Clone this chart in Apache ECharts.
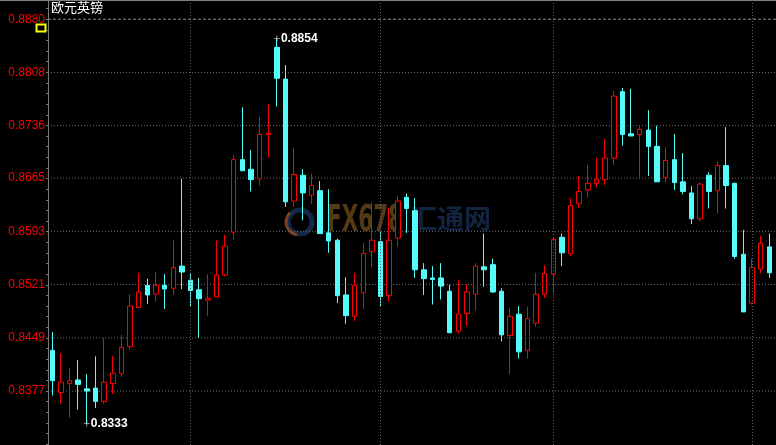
<!DOCTYPE html>
<html><head><meta charset="utf-8">
<script src="https://cdn.jsdelivr.net/npm/echarts@6/dist/echarts.min.js"></script>
<style>html,body{margin:0;padding:0;background:#000;}#c{width:776px;height:445px;}</style>
</head><body><div id="c"></div>
<script>
// ---- data ----
const opens  = [0.8432,0.8375,0.8387,0.8392,0.8380,0.8381,0.8363,0.8387,0.8401,0.8437,
                0.8490,0.8520,0.8508,0.8520,0.8516,0.8546,0.8527,0.8514,0.8500,0.8504,
                0.8534,0.8592,0.8690,0.8677,0.8664,0.8724,0.8842,0.8799,0.8634,0.8669,
                0.8642,0.8648,0.8591,0.8581,0.8507,0.8478,0.8510,0.8566,0.8579,0.8506,
                0.8584,0.8639,0.8621,0.8541,0.8530,0.8530,0.8512,0.8458,0.8482,0.8508,
                0.8545,0.8548,0.8512,0.8452,0.8481,0.8432,0.8469,0.8508,0.8535,0.8585,
                0.8563,0.8631,0.8649,0.8658,0.8663,0.8692,0.8782,0.8725,0.8724,0.8730,
                0.8708,0.8666,0.8690,0.8660,0.8645,0.8610,0.8669,0.8648,0.8682,0.8658,
                0.8562,0.8496,0.8542,0.8572];
const closes = [0.8391,0.8389,0.8391,0.8386,0.8377,0.8363,0.8389,0.8401,0.8436,0.8492,
                0.8511,0.8507,0.8520,0.8515,0.8544,0.8538,0.8513,0.8502,0.8502,0.8534,
                0.8573,0.8690,0.8675,0.8663,0.8724,0.8726,0.8800,0.8633,0.8670,0.8645,
                0.8655,0.8590,0.8580,0.8506,0.8479,0.8520,0.8563,0.8581,0.8505,0.8581,
                0.8634,0.8624,0.8541,0.8529,0.8528,0.8519,0.8456,0.8481,0.8511,0.8546,
                0.8541,0.8511,0.8453,0.8478,0.8430,0.8475,0.8508,0.8536,0.8582,0.8564,
                0.8628,0.8647,0.8658,0.8663,0.8692,0.8776,0.8724,0.8722,0.8731,0.8708,
                0.8660,0.8689,0.8659,0.8647,0.8610,0.8657,0.8647,0.8682,0.8655,0.8559,
                0.8484,0.8544,0.8577,0.8537];
const lows   = [0.8371,0.8360,0.8341,0.8352,0.8333,0.8354,0.8360,0.8373,0.8396,0.8433,
                0.8490,0.8495,0.8498,0.8488,0.8507,0.8515,0.8491,0.8449,0.8479,0.8504,
                0.8532,0.8582,0.8675,0.8647,0.8655,0.8693,0.8762,0.8626,0.8626,0.8608,
                0.8630,0.8590,0.8564,0.8496,0.8468,0.8472,0.8488,0.8545,0.8492,0.8498,
                0.8572,0.8591,0.8530,0.8507,0.8494,0.8501,0.8455,0.8455,0.8465,0.8486,
                0.8518,0.8510,0.8444,0.8400,0.8421,0.8421,0.8464,0.8503,0.8509,0.8546,
                0.8559,0.8625,0.8639,0.8653,0.8656,0.8683,0.8709,0.8722,0.8666,0.8668,
                0.8660,0.8659,0.8649,0.8643,0.8603,0.8607,0.8624,0.8617,0.8624,0.8556,
                0.8484,0.8494,0.8536,0.8530];
const highs  = [0.8457,0.8428,0.8408,0.8419,0.8400,0.8424,0.8449,0.8424,0.8453,0.8508,
                0.8537,0.8529,0.8538,0.8535,0.8581,0.8664,0.8537,0.8530,0.8535,0.8581,
                0.8588,0.8696,0.8761,0.8703,0.8748,0.8765,0.8854,0.8818,0.8706,0.8677,
                0.8671,0.8661,0.8650,0.8583,0.8531,0.8537,0.8577,0.8632,0.8593,0.8625,
                0.8641,0.8644,0.8638,0.8550,0.8546,0.8550,0.8521,0.8528,0.8521,0.8550,
                0.8590,0.8556,0.8516,0.8489,0.8492,0.8491,0.8537,0.8547,0.8585,0.8590,
                0.8638,0.8668,0.8683,0.8693,0.8718,0.8783,0.8787,0.8786,0.8736,0.8757,
                0.8736,0.8707,0.8725,0.8699,0.8654,0.8659,0.8673,0.8687,0.8734,0.8659,
                0.8595,0.8556,0.8587,0.8590];
const categories = opens.map((_, i) => 'K' + (i + 1));
const yTickLabels = [0.8880, 0.8808, 0.8736, 0.8665, 0.8593, 0.8521, 0.8449, 0.8377];
const sessionBreaks = [16, 38, 58, 81];
const titleText = '欧元英镑';

// ---- chart ----
const chart = echarts.init(document.getElementById('c'), null, {renderer: 'canvas'});
const yMin = 0.8304, yMax = 0.8906;
const step = (yTickLabels[0] - yTickLabels[yTickLabels.length - 1]) / (yTickLabels.length - 1) / 5;
const minorTicks = [];
for (let v = yTickLabels[0] + step; v > yMin; v -= step) minorTicks.push(+v.toFixed(6));

const crossPath = 'path://M0,4.5h10v1h-10z M4.5,0h1v10h-1z';

// horizontal grid lines as thin line series across a hidden 0..1 x axis (second, overlapping grid)
const gridSeries = yTickLabels.map((v, i) => ({
  type: 'line', xAxisIndex: 1, yAxisIndex: 1, silent: true, symbol: 'none', z: 1,
  data: [[0, v], [1, v]],
  lineStyle: i === 0 ? {color: '#8a8a8a', width: 1, type: [3, 2]} : {color: '#6e6e6e', width: 1, type: [1, 2]},
  tooltip: {show: false}
}));

chart.setOption({
  backgroundColor: '#000',
  animation: false,
  grid: [
    {left: 48, top: 0, width: 725.6, bottom: 0, containLabel: false},
    {left: 48, top: 0, right: 0, bottom: 0, containLabel: false}
  ],
  xAxis: [{
    type: 'category', data: categories, boundaryGap: true, gridIndex: 0,
    axisLine: {show: false}, axisTick: {show: false}, axisLabel: {show: false}, splitLine: {show: false}
  }, {
    type: 'value', min: 0, max: 1, gridIndex: 1, show: false, splitLine: {show: false}
  }],
  yAxis: [{
    type: 'value', min: yMin, max: yMax, position: 'left', gridIndex: 0,
    axisLine: {show: true, lineStyle: {color: '#7a7a7a', width: 1}},
    axisTick: {show: true, length: 2, inside: false, customValues: minorTicks, lineStyle: {color: '#7a7a7a'}},
    axisLabel: {show: true, customValues: yTickLabels, margin: 3, color: '#ff0000', fontSize: 12,
      fontFamily: 'Liberation Sans', formatter: v => v.toFixed(4)},
    splitLine: {show: false}, minorSplitLine: {show: false}
  }, {
    type: 'value', min: yMin, max: yMax, gridIndex: 1, show: false, splitLine: {show: false}
  }],
  graphic: [
    {type: 'line', shape: {x1: 0, y1: 0.5, x2: 776, y2: 0.5}, style: {stroke: '#808080', lineWidth: 1}, silent: true},
    {type: 'circle', shape: {cx: 300, cy: 222, r: 12}, style: {fill: 'none', stroke: 'rgba(22,48,85,0.85)', lineWidth: 5}, silent: true},
    {type: 'arc', shape: {cx: 299, cy: 222, r: 13, startAngle: Math.PI * 0.55, endAngle: Math.PI * 1.25},
      style: {fill: 'none', stroke: 'rgba(150,75,20,0.8)', lineWidth: 3}, silent: true},
    {type: 'text', x: 327, y: 203, scaleX: 0.58, silent: true,
      style: {text: 'FX678', font: 'bold 37px "DejaVu Sans"', fill: 'rgba(105,72,25,0.8)'}},
    {type: 'text', x: 410, y: 205, silent: true,
      style: {text: '汇通网', font: 'bold 27px "Noto Sans CJK SC"', fill: 'rgba(20,40,72,0.9)'}},
    {type: 'text', x: 51, y: 1, silent: true,
      style: {text: titleText, font: '13px "Noto Sans CJK SC"', fill: '#ffffff'}},
    {type: 'rect', shape: {x: 36.5, y: 24.5, width: 9, height: 7}, silent: true,
      style: {fill: '#000', stroke: '#ffff00', lineWidth: 2}}
  ],
  series: gridSeries.concat([{
    type: 'candlestick', xAxisIndex: 0, yAxisIndex: 0, z: 3,
    data: opens.map((o, i) => [o, closes[i], lows[i], highs[i]]),
    barWidth: 5,
    itemStyle: {color: '#000000', color0: '#54fcfc', borderColor: '#ff0000', borderColor0: '#54fcfc', borderWidth: 1},
    markLine: {silent: true, symbol: ['none', 'none'], label: {show: false},
      lineStyle: {color: '#606060', width: 1, type: [1, 2]},
      data: sessionBreaks.map(i => ({xAxis: categories[i]}))},
    markPoint: {
      silent: true, symbol: crossPath, symbolSize: 6, itemStyle: {color: '#ffffff'},
      label: {show: true, position: 'right', distance: 1, color: '#ffffff', fontWeight: 'bold',
        fontSize: 12, fontFamily: 'Liberation Sans', formatter: p => p.value.toFixed(4)},
      data: [{type: 'max', valueDim: 'highest'}, {type: 'min', valueDim: 'lowest'}]
    }
  }])
});
</script></body></html>
